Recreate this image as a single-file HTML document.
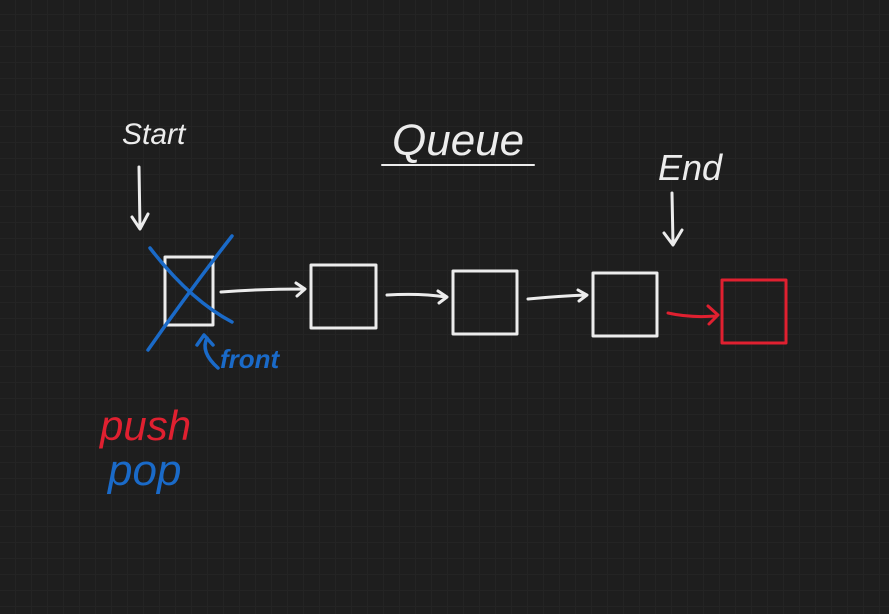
<!DOCTYPE html>
<html><head><meta charset="utf-8"><style>
html,body{margin:0;padding:0}
body{width:889px;height:614px;overflow:hidden;background-color:#1e1e1e;
background-image:linear-gradient(#242424 1px,transparent 1px),linear-gradient(90deg,#242424 1px,transparent 1px);
background-size:16px 16px;background-position:-1px -2px}
svg{position:absolute;left:0;top:0}
text{font-family:"Liberation Sans",sans-serif;font-style:italic}
</style></head><body>
<svg width="889" height="614" viewBox="0 0 889 614" fill="none" stroke-linecap="round" stroke-linejoin="round">
<g stroke="#ececec" stroke-width="3">
<rect x="165" y="257" width="48" height="68"/>
<rect x="311" y="265" width="65" height="63"/>
<rect x="453" y="271" width="64" height="63"/>
<rect x="593" y="273" width="64" height="63"/>
<path d="M221 292 Q260 289 304 289 M296 283 L305 289 L297 296"/>
<path d="M387 295 Q420 293 446 297 M438 291 L447 297 L439 303"/>
<path d="M528 299 Q560 296 586 295 M578 290 L587 295 L579 301"/>
<path d="M382 165 L534 165" stroke-width="2"/>
<path d="M139 167 L140 228 M132 217 L140 229 L148 214"/>
<path d="M672 193 L673 244 M664 233 L673 245 L682 230"/>
</g>
<g stroke="#e02030" stroke-width="3">
<rect x="722" y="280" width="64" height="63"/>
<path d="M668 313 Q690 318 716 316 M708 306 L718 315 L709 324"/>
</g>
<g stroke="#1a6ac8" stroke-width="3.5">
<path d="M150 248 Q190 300 232 322"/>
<path d="M148 350 Q190 290 232 236"/>
<path d="M207 338 Q200 352 218 368 M197 345 L204 335 L213 345"/>
</g>
<text x="122" y="144" fill="#ececec" font-size="30">Start</text>
<text x="392" y="155" fill="#ececec" font-size="44">Queue</text>
<text x="658" y="180" fill="#ececec" font-size="36">End</text>
<text x="220" y="368" fill="#1a6ac8" font-size="26" font-weight="bold">front</text>
<text x="100" y="440" fill="#e02030" font-size="42">push</text>
<text x="108" y="485" fill="#1a6ac8" font-size="44">pop</text>
</svg>
</body></html>
